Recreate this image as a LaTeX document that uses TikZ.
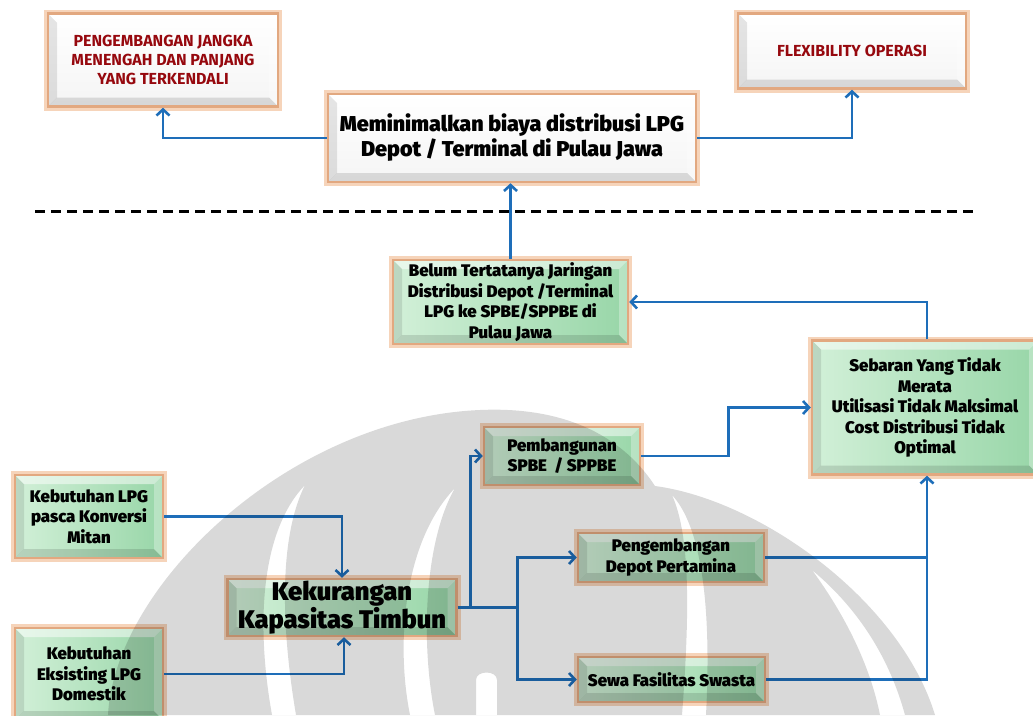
\documentclass[tikz,border=0pt]{standalone}
\usepackage{fontspec}
\setmainfont{Fira Sans}
\IfFontExistsTF{Fira Sans Heavy}
  {\newfontfamily\heavyfont{Fira Sans Heavy}\newcommand\heavy{\heavyfont}}
  {\IfFontExistsTF{Fira Sans Black}
    {\newfontfamily\heavyfont{Fira Sans Black}\newcommand\heavy{\heavyfont}}
    {\newfontfamily\heavyfont{Fira Sans}[BoldFeatures={FakeBold=1.3}]\newcommand\heavy{\heavyfont\bfseries}}}
\usetikzlibrary{arrows.meta}

\definecolor{flow}{RGB}{30,110,185}
\definecolor{rim}{RGB}{226,168,128}
\definecolor{glow}{RGB}{246,212,186}
\definecolor{mintA}{RGB}{210,240,216}
\definecolor{mintB}{RGB}{152,214,168}
\definecolor{alert}{RGB}{150,8,14}

\tikzset{
  bevel/.style={path picture={
    \path (path picture bounding box.south west) coordinate (bv1)
          (path picture bounding box.north west) coordinate (bv2)
          (path picture bounding box.north east) coordinate (bv3)
          (path picture bounding box.south east) coordinate (bv4);
    \fill[black,opacity=.10] (bv1) -- (bv2) -- ([shift={(9pt,-9pt)}]bv2) -- ([shift={(9pt,9pt)}]bv1) -- cycle;
    \fill[white,opacity=.50] (bv2) -- (bv3) -- ([shift={(-9pt,-9pt)}]bv3) -- ([shift={(9pt,-9pt)}]bv2) -- cycle;
    \fill[white,opacity=.30] (bv3) -- (bv4) -- ([shift={(-9pt,9pt)}]bv4) -- ([shift={(-9pt,-9pt)}]bv3) -- cycle;
    \fill[black,opacity=.12] (bv4) -- (bv1) -- ([shift={(9pt,9pt)}]bv1) -- ([shift={(-9pt,9pt)}]bv4) -- cycle;
  }},
  card/.style={draw=rim, line width=2.5pt,
    preaction={draw=glow, line width=8pt},
    inner sep=0pt, align=center, bevel},
  whitecard/.style={card, top color=white, bottom color=black!4},
  greencard/.style={card, left color=mintA, right color=mintB},
  redtext/.style={text=alert, font=\bfseries\fontsize{16}{19}\selectfont},
  greentext/.style={font=\heavy\fontsize{16.8}{20.5}\selectfont},
  link/.style={draw=flow, line width=2.6pt},
  linkarrow/.style={link, -{Straight Barb[length=6pt,width=13pt]}},
}

\begin{document}
\begin{tikzpicture}[x=1pt,y=-1pt]
\useasboundingbox (0,0) rectangle (1033,715);

% upper level: goal and its outcomes
\node[whitecard, redtext, minimum width=230pt, minimum height=93pt] (pj) at (163,60)
  {PENGEMBANGAN JANGKA\\MENENGAH DAN PANJANG\\YANG TERKENDALI};
\node[whitecard, redtext, minimum width=228pt, minimum height=75pt] (fo) at (852,51)
  {FLEXIBILITY OPERASI};
\node[whitecard, font=\heavy\fontsize{21.5}{25}\selectfont, minimum width=368pt, minimum height=88pt] (mb) at (512,138)
  {Meminimalkan biaya distribusi LPG\\Depot / Terminal di Pulau Jawa};

% separator between goal and problem tree
\coordinate (dl) at (35,211);
\coordinate (dr) at (975,211);
\draw[black, line width=3pt, dash pattern=on 10pt off 6pt] (dl) -- (dr);

% problem tree
\node[greencard, greentext, minimum width=235pt, minimum height=84pt] (bt) at (510.5,302)
  {Belum Tertatanya Jaringan\\Distribusi Depot /Terminal\\LPG ke SPBE/SPPBE di\\Pulau Jawa};
\node[greencard, greentext, minimum width=226pt, minimum height=134pt] (sy) at (925,407.5)
  {Sebaran Yang Tidak\\Merata\\Utilisasi Tidak Maksimal\\Cost Distribusi Tidak\\Optimal};
\node[greencard, greentext, minimum width=156pt, minimum height=58pt] (ps) at (562,456)
  {Pembangunan\\SPBE~~/ SPPBE};
\node[greencard, greentext, minimum width=148pt, minimum height=83pt] (kl) at (89,516.5)
  {Kebutuhan LPG\\pasca Konversi\\Mitan};
\node[greencard, greentext, minimum width=186pt, minimum height=49pt] (pd) at (671,557.5)
  {Pengembangan\\Depot Pertamina};
\node[greencard, font=\heavy\fontsize{25.5}{24}\selectfont, minimum width=229pt, minimum height=57pt] (kk) at (342,607.5)
  {Kekurangan\\Kapasitas Timbun};
\node[greencard, greentext, minimum width=148pt, minimum height=92pt] (ke) at (89,674)
  {Kebutuhan\\Eksisting LPG\\Domestik};
\node[greencard, greentext, minimum width=187pt, minimum height=45pt] (sf) at (671.5,679.5)
  {Sewa Fasilitas Swasta};

% connectors
\coordinate (syin) at ([xshift=2pt]sy.south);
\coordinate (syout) at ([xshift=2pt]sy.north);
\coordinate (kkin) at ([xshift=2pt]kk.south);
\coordinate (fork) at ([xshift=60pt]kk.east);
\draw[linkarrow] (mb.west) -| (pj.south);
\draw[linkarrow] (mb.east) -| (fo.south);
\draw[linkarrow] (bt.north) -- (bt.north |- mb.south);
\draw[linkarrow] (syout) |- (bt.east);
\draw[linkarrow] (ps.east) -- ++(87,0) |- (sy.west);
\draw[linkarrow] (kl.east) -| (kk.north);
\draw[linkarrow] (ke.east) -| (kkin);
\draw[linkarrow] (kk.east) -- ++(13,0) |- (ps.west);
\draw[linkarrow] (kk.east) -- (fork) |- (pd.west);
\draw[linkarrow] (fork) |- (sf.west);
\draw[link] (pd.east) -- (pd.east -| syin);
\draw[linkarrow] (sf.east) -| (syin);

% faint emblem laid over the lower half
\fill[black, opacity=.15, even odd rule]
  (108,715) .. controls (115,585) and (290,418) .. (480,410)
  .. controls (570,406) and (625,440) .. (655,486)
  .. controls (760,500) and (900,600) .. (935,715) -- cycle
  (305,485) .. controls (262,530) and (255,620) .. (272,715) -- (296,715)
  .. controls (280,620) and (280,535) .. (305,485)
  (455,488) .. controls (405,540) and (395,640) .. (410,715) -- (435,715)
  .. controls (420,640) and (425,540) .. (455,488)
  (476,715) -- (476,680) .. controls (476,670) and (497,670) .. (497,680) -- (497,715) -- cycle
  (672,495) .. controls (700,525) and (712,600) .. (706,715) -- (682,715)
  .. controls (690,610) and (690,535) .. (672,495)
  (812,570) .. controls (860,610) and (890,660) .. (905,715) -- (880,715)
  .. controls (870,665) and (845,615) .. (812,570);
\end{tikzpicture}
\end{document}
